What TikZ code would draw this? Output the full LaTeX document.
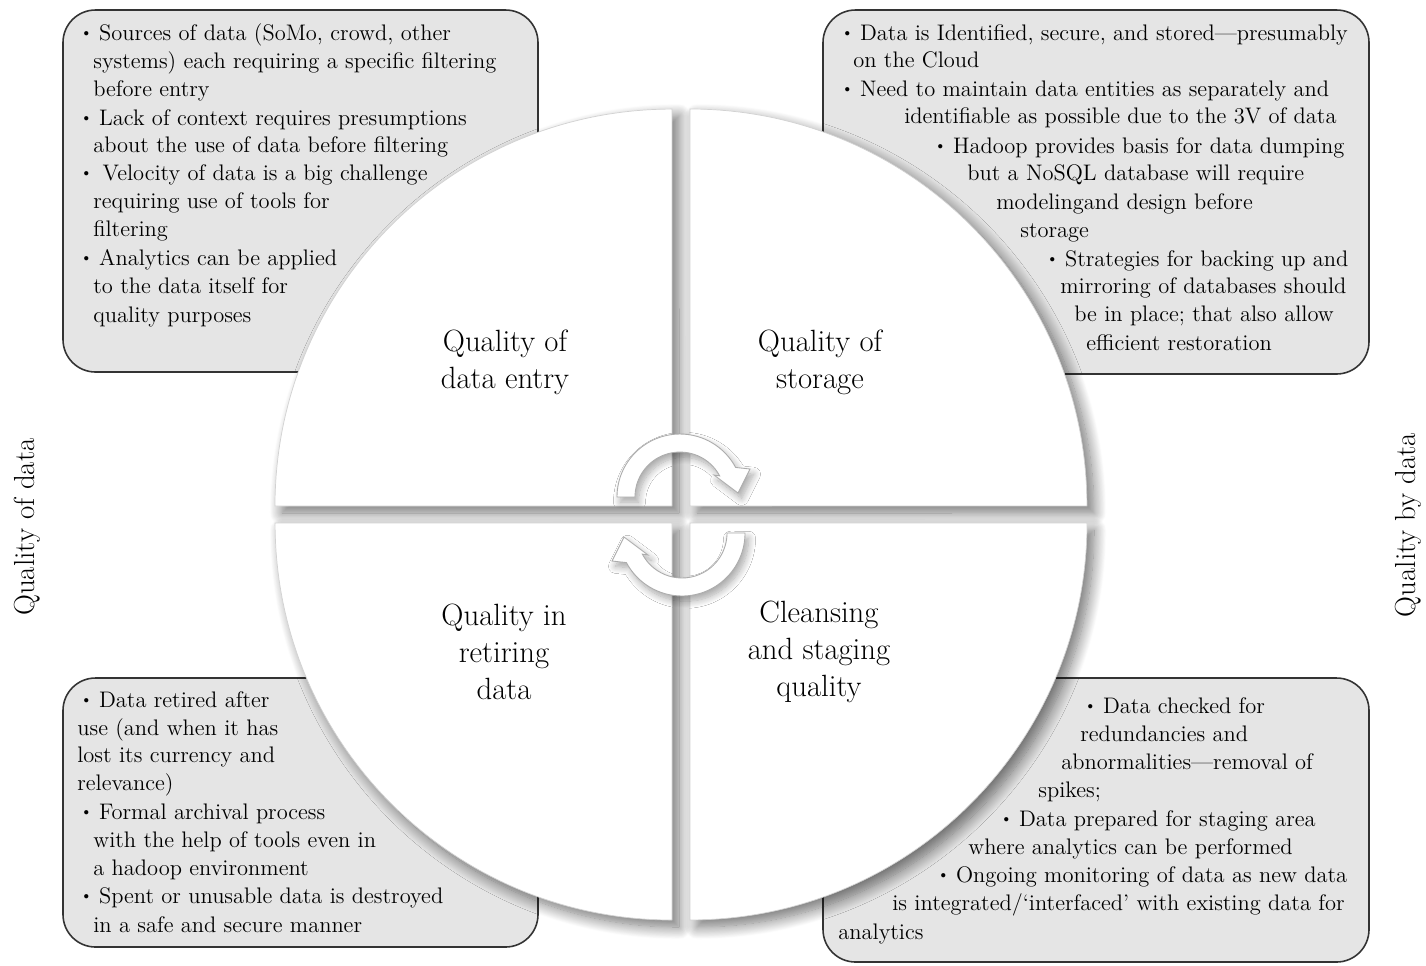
\documentclass[tikz,border=0pt]{standalone}
\usepackage{fontspec}
\usetikzlibrary{shadows.blur}

\tikzset{
  infobox/.style={draw=black!80, line width=0.9pt, fill=gray!20, rounded corners=0.65cm},
  quarter/.style={fill=white, draw=gray!35, line width=0.4pt,
    blur shadow={shadow xshift=4pt, shadow yshift=-4pt, shadow blur radius=7pt, shadow blur steps=16, shadow opacity=55}},
  turn/.style={fill=white, draw=gray!65, line width=0.5pt,
    blur shadow={shadow xshift=2pt, shadow yshift=-3pt, shadow blur radius=4pt, shadow blur steps=10, shadow opacity=35}},
  boxtext/.style={anchor=base west, inner sep=0pt, font=\fontsize{12.8}{15}\selectfont},
  qlabel/.style={align=center, font=\fontsize{17.5}{21}\selectfont},
  sidelabel/.style={rotate=90, font=\fontsize{16.5}{21}\selectfont},
}
\newcommand{\bul}{\raisebox{.25ex}{\scalebox{.7}{\textbullet}}\hspace{.3em}}

\begin{document}
\begin{tikzpicture}[x=0.02cm, y=-0.02cm]
\useasboundingbox (0,0) rectangle (1426,965);

% grey boxes
\draw[infobox] (63,10) rectangle (538,372);
\draw[infobox] (823,10) rectangle (1369,374);
\draw[infobox] (63,678) rectangle (538,947);
\draw[infobox] (823,678) rectangle (1369,962);

% quarter discs
\draw[quarter] (672,506) -- (275,506) arc[start angle=180, end angle=90, radius=7.94cm] -- cycle;
\draw[quarter] (690,506) -- (690,109) arc[start angle=90, end angle=0, radius=7.94cm] -- cycle;
\draw[quarter] (672,523) -- (672,920) arc[start angle=270, end angle=180, radius=7.94cm] -- cycle;
\draw[quarter] (690,523) -- (1087,523) arc[start angle=0, end angle=-90, radius=7.94cm] -- cycle;

% turning arrows
\begin{scope}[shift={(680,497)}, x=0.02cm, y=0.02cm]
\draw[turn] (-63,0) arc[start angle=180, end angle=28, radius=1.26cm]
  -- (70,28) -- (58,4) -- (34,22) -- (39.7,21.1)
  arc[start angle=28, end angle=180, radius=0.9cm] -- cycle;
\end{scope}
\begin{scope}[shift={(682,533)}, rotate=180, x=0.02cm, y=0.02cm]
\draw[turn] (-63,0) arc[start angle=180, end angle=28, radius=1.26cm]
  -- (70,28) -- (58,4) -- (34,22) -- (39.7,21.1)
  arc[start angle=28, end angle=180, radius=0.9cm] -- cycle;
\end{scope}

% quadrant labels
\node[qlabel] (entry) at (505,362) {Quality of\\data entry};
\node[qlabel] (storage) at (820,362) {Quality of\\storage};
\node[qlabel] (retire) at (504,652) {Quality in\\retiring\\data};
\node[qlabel] (cleanse) at (819,652) {Cleansing\\and staging\\quality};

% side labels
\node[sidelabel] (qof) at (27,527) {Quality of data};
\node[sidelabel] (qby) at (1408,525) {Quality by data};

% box texts
\foreach \x/\y/\t [count=\i] in {
  80/40/{\bul Sources of data (SoMo, crowd, other},
  93/68/{systems) each requiring a specific filtering},
  93/96/{before entry},
  80/125/{\bul Lack of context requires presumptions},
  93/152/{about the use of data before filtering},
  80/180/{\bul\hspace{2pt}Velocity of data is a big challenge},
  93/208/{requiring use of tools for},
  93/236/{filtering},
  80/265/{\bul Analytics can be applied},
  93/293/{to the data itself for},
  93/322/{quality purposes}}
  \node[boxtext] (entry\i) at (\x,\y) {\t};

\foreach \x/\y/\t [count=\i] in {
  841/40/{\bul Data is Identified, secure, and stored---presumably},
  853/67/{on the Cloud},
  841/96/{\bul Need to maintain data entities as separately and},
  904/123/{identifiable as possible due to the 3V of data},
  934/153/{\bul Hadoop provides basis for data dumping},
  967/180/{but a NoSQL database will require},
  996/209/{modelingand design before},
  1020/237/{storage},
  1046/266/{\bul Strategies for backing up and},
  1060/293/{mirroring of databases should},
  1074/321/{be in place; that also allow},
  1086/350/{efficient restoration}}
  \node[boxtext] (store\i) at (\x,\y) {\t};

\foreach \x/\y/\t [count=\i] in {
  80/707/{\bul Data retired after},
  77/735/{use (and when it has},
  77/762/{lost its currency and},
  77/790/{relevance)},
  80/819/{\bul Formal archival process},
  93/847/{with the help of tools even in},
  93/875/{a hadoop environment},
  80/903/{\bul Spent or unusable data is destroyed},
  93/932/{in a safe and secure manner}}
  \node[boxtext] (retire\i) at (\x,\y) {\t};

\foreach \x/\y/\t [count=\i] in {
  1084/713/{\bul Data checked for},
  1080/741/{redundancies and},
  1061/769/{abnormalities---removal of},
  1038/797/{spikes;},
  1000/826/{\bul Data prepared for staging area},
  968/854/{where analytics can be performed},
  937/882/{\bul Ongoing monitoring of data as new data},
  892/910/{is integrated/`interfaced' with existing data for},
  838/939/{analytics}}
  \node[boxtext] (cleanse\i) at (\x,\y) {\t};

\end{tikzpicture}
\end{document}
